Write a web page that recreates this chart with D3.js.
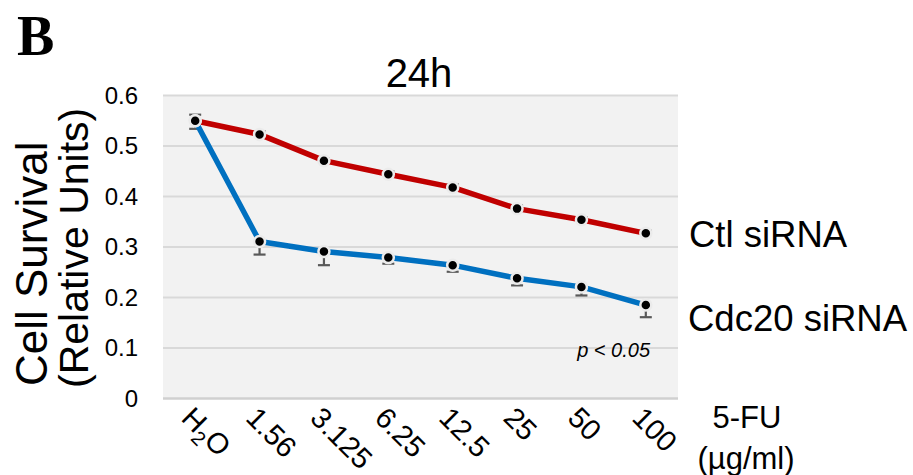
<!DOCTYPE html>
<html>
<head>
<meta charset="utf-8">
<script src="https://cdn.jsdelivr.net/npm/d3@7"></script>
<style>
  html, body { margin: 0; padding: 0; background: #fff; }
  svg { display: block; font-family: Arial, "Liberation Sans", Helvetica, sans-serif; }
</style>
</head>
<body>
<svg id="chart" width="913" height="475"></svg>
<script>
// 5-FU doses (µg/ml); first entry is the water control
const doses = ["H2O", "1.56", "3.125", "6.25", "12.5", "25", "50", "100"];
// Cell survival after 24h (relative units)
const ctlValues   = [0.550, 0.523, 0.471, 0.444, 0.418, 0.376, 0.354, 0.327];
const ctlErrors   = [0.012, 0.006, 0.005, 0.006, 0.006, 0.006, 0.005, 0.005];
const cdc20Values = [0.550, 0.311, 0.291, 0.279, 0.264, 0.238, 0.221, 0.185];
const cdc20Errors = [0.016, 0.026, 0.027, 0.012, 0.013, 0.014, 0.017, 0.024];
const yTicks = [0, 0.1, 0.2, 0.3, 0.4, 0.5, 0.6];
const yTickLabels = ["0", "0.1", "0.2", "0.3", "0.4", "0.5", "0.6"];

const svg = d3.select("#chart");
const plot = { left: 163, right: 678, top: 95.5, bottom: 398.5 };

const x = d3.scaleBand().domain(doses).range([plot.left, plot.right]).paddingInner(0).paddingOuter(0);
const y = d3.scaleLinear().domain([0, 0.6]).range([plot.bottom, plot.top]);
const cx = d => x(d) + x.bandwidth() / 2;

// plot background
svg.append("rect")
  .attr("x", plot.left).attr("y", plot.top)
  .attr("width", plot.right - plot.left).attr("height", plot.bottom - plot.top)
  .attr("fill", "#f2f2f2");

// horizontal gridlines
svg.append("g").selectAll("line")
  .data(yTicks.filter(t => t > 0))
  .join("line")
  .attr("x1", plot.left).attr("x2", plot.right)
  .attr("y1", d => y(d)).attr("y2", d => y(d))
  .attr("stroke", "#d9d9d9").attr("stroke-width", 2);

// baseline
svg.append("line")
  .attr("x1", plot.left).attr("x2", plot.right)
  .attr("y1", y(0)).attr("y2", y(0))
  .attr("stroke", "#d0d0d0").attr("stroke-width", 2.5);

// y axis tick labels
const yAxis = d3.axisLeft(y).tickValues(yTicks)
  .tickFormat((d, i) => yTickLabels[i]).tickSize(0).tickPadding(0);
const gy = svg.append("g").attr("transform", `translate(138,0)`).call(yAxis);
gy.select(".domain").remove();
gy.selectAll("text").attr("font-size", 24).attr("fill", "#000")
  .attr("font-family", "Arial, 'Liberation Sans', sans-serif");

// x axis tick labels, rotated
const xAxis = d3.axisBottom(x).tickSize(0).tickPadding(0).tickFormat(() => "");
const gx = svg.append("g").attr("transform", `translate(0,${plot.bottom})`).call(xAxis);
gx.select(".domain").remove();
gx.selectAll(".tick text").remove();
gx.selectAll(".tick").each(function(d) {
  const t = d3.select(this).append("text")
    .attr("transform", `translate(${-x.bandwidth() / 2 + 17},21) rotate(45)`)
    .attr("text-anchor", "start")
    .attr("font-size", 29).attr("fill", "#000")
    .attr("font-family", "Arial, 'Liberation Sans', sans-serif");
  if (d === "H2O") {
    t.append("tspan").text("H");
    t.append("tspan").attr("font-size", 20).attr("dy", 7).text("2");
    t.append("tspan").attr("dy", -7).text("O");
  } else {
    t.text(d);
  }
});

// series
const series = [
  { name: "Ctl siRNA", values: ctlValues, errors: ctlErrors, color: "#c00000", dir: -1 },
  { name: "Cdc20 siRNA", values: cdc20Values, errors: cdc20Errors, color: "#0070c0", dir: 1 }
];

const line = d3.line().x((d, i) => cx(doses[i])).y(d => y(d));

// error bars (one-sided)
series.forEach(s => {
  const g = svg.append("g").attr("stroke", "#595959").attr("stroke-width", 2.2);
  s.values.forEach((v, i) => {
    const xv = cx(doses[i]);
    const y0 = y(v);
    const y1 = y(v + (s.dir < 0 ? s.errors[i] : -s.errors[i]));
    g.append("line").attr("x1", xv).attr("x2", xv).attr("y1", y0).attr("y2", y1);
    g.append("line").attr("x1", xv - 6).attr("x2", xv + 6).attr("y1", y1).attr("y2", y1);
  });
});

// lines: blue drawn first so red sits on top
[series[1], series[0]].forEach(s => {
  svg.append("path").datum(s.values)
    .attr("d", line)
    .attr("fill", "none")
    .attr("stroke", s.color)
    .attr("stroke-width", 5.5)
    .attr("stroke-linejoin", "round");
});

// markers
series.forEach(s => {
  svg.append("g").selectAll("circle")
    .data(s.values)
    .join("circle")
    .attr("cx", (d, i) => cx(doses[i]))
    .attr("cy", d => y(d))
    .attr("r", 5.5)
    .attr("fill", "#000")
    .attr("stroke", "#ebebeb")
    .attr("stroke-width", 2.5);
});

// series labels
svg.append("text").attr("x", 689).attr("y", 247).attr("font-size", 36.5).text("Ctl siRNA");
svg.append("text").attr("x", 688).attr("y", 331).attr("font-size", 36.5).text("Cdc20 siRNA");

// x axis title
svg.append("text").attr("x", 747).attr("y", 428).attr("text-anchor", "middle")
  .attr("font-size", 31).text("5-FU");
svg.append("text").attr("x", 746).attr("y", 469).attr("text-anchor", "middle")
  .attr("font-size", 31).text("(µg/ml)");

// y axis title
const ylab = svg.append("g").attr("transform", "translate(0,386) rotate(-90)");
ylab.append("text").attr("x", 0).attr("y", 47).attr("font-size", 44).text("Cell Survival");
ylab.append("text").attr("x", -2).attr("y", 88).attr("font-size", 41).text("(Relative Units)");

// chart title
svg.append("text").attr("x", 419).attr("y", 87).attr("text-anchor", "middle")
  .attr("font-size", 40).text("24h");

// significance note
svg.append("text").attr("x", 650).attr("y", 357).attr("text-anchor", "end")
  .attr("font-size", 20).attr("font-style", "italic").text("p < 0.05");

// panel letter
svg.append("text").attr("x", 17).attr("y", 55)
  .attr("font-family", "'Liberation Serif', 'Times New Roman', serif")
  .attr("font-weight", "bold").attr("font-size", 56).text("B");
</script>
</body>
</html>
